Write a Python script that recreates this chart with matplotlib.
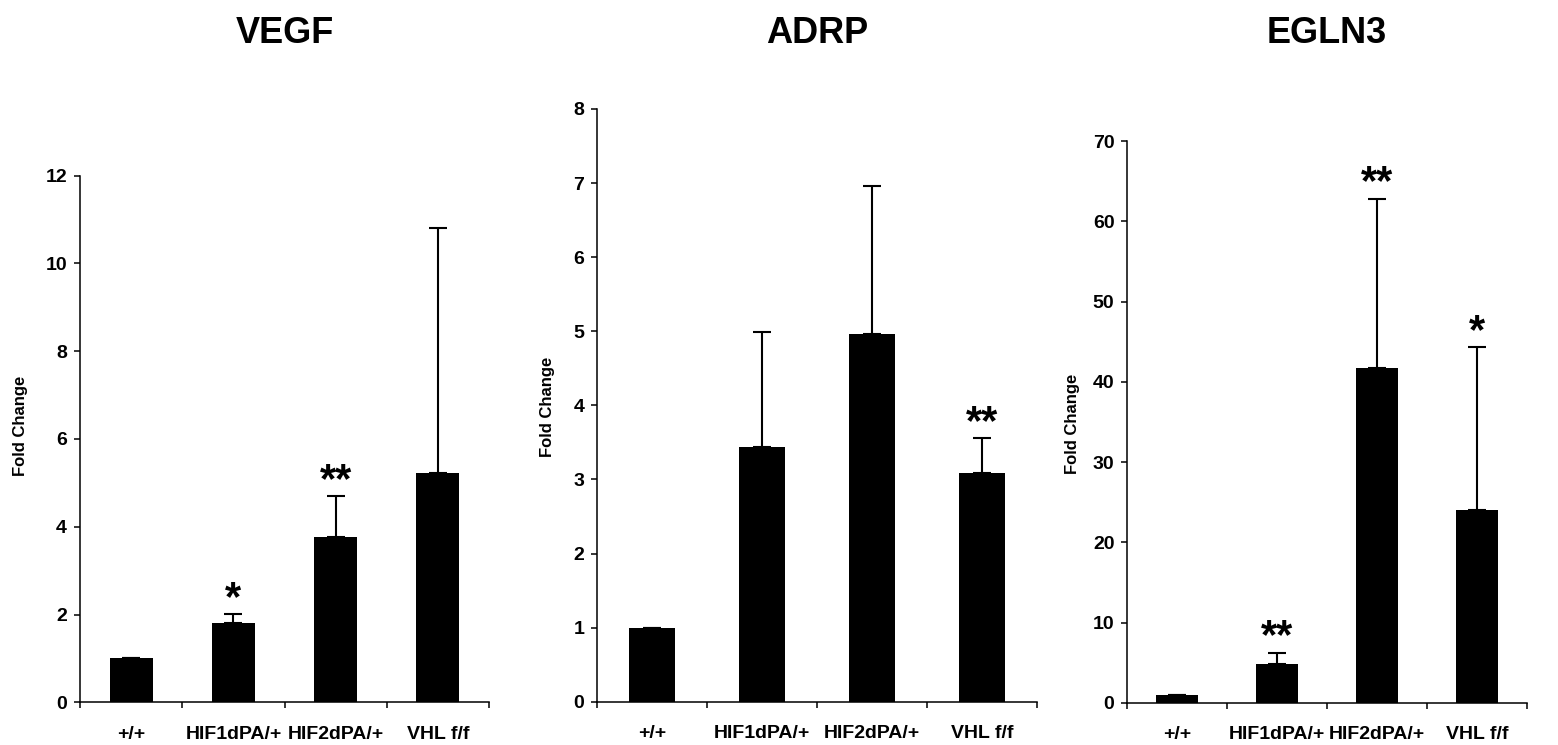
import matplotlib
matplotlib.use("Agg")
import matplotlib.pyplot as plt
import numpy as np

plt.rcParams['font.family'] = ['Liberation Sans', 'DejaVu Sans']
plt.rcParams['font.weight'] = 'bold'

categories = ["+/+", "HIF1dPA/+", "HIF2dPA/+", "VHL f/f"]

titles = ["VEGF", "ADRP", "EGLN3"]

vegf_mean = [1.0, 1.80, 3.77, 5.22]
vegf_err = [0.0, 0.21, 0.92, 5.58]
vegf_stars = ["", "*", "**", ""]

adrp_mean = [1.0, 3.44, 4.96, 3.09]
adrp_err = [0.0, 1.55, 2.00, 0.47]
adrp_stars = ["", "", "", "**"]

egln3_mean = [1.0, 4.82, 41.77, 23.99]
egln3_err = [0.0, 1.41, 21.07, 20.36]
egln3_stars = ["", "**", "**", "*"]

ylims = [12, 8, 70]
ysteps = [2, 1, 10]

fig = plt.figure(figsize=(15.58, 7.45), dpi=100)
W, H = 1558.0, 745.0

# axes boxes in pixels: left, right, bottom(y from top), top(y from top)
boxes = [(80, 489, 702.3, 175.5),
         (597.3, 1037, 701.7, 108.9),
         (1127.3, 1527, 702.7, 141.3)]
label_x = [-52, -42, -47]
label_y = [0.524, 0.497, 0.496]

means = [vegf_mean, adrp_mean, egln3_mean]
errs = [vegf_err, adrp_err, egln3_err]
stars = [vegf_stars, adrp_stars, egln3_stars]

for i in range(3):
    l, r, b, t = boxes[i]
    ax = fig.add_axes([l / W, (H - b) / H, (r - l) / W, (b - t) / H])
    x = np.arange(len(categories)) + 0.5
    ax.bar(x, means[i], width=0.42, color='black', edgecolor='none', zorder=2)
    lower = np.zeros(len(categories))
    ax.errorbar(x, means[i], yerr=[lower, errs[i]], fmt='none', ecolor='black',
                elinewidth=1.5, capsize=6.5, capthick=1.5, zorder=3)
    for xi, m, e, s in zip(x, means[i], errs[i], stars[i]):
        if s:
            ax.annotate(s, xy=(xi, m + e), xytext=(0, 3), textcoords='offset points',
                        ha='center', va='baseline', fontsize=30, fontweight='bold')
    ax.set_xlim(0, 4)
    ax.set_ylim(0, ylims[i])
    ax.set_yticks(np.arange(0, ylims[i] + 0.001, ysteps[i]))
    ax.set_xticks(np.arange(0, 5))
    ax.set_xticklabels([])
    ax.set_xticks(x, minor=True)
    ax.set_xticklabels(categories, minor=True, fontsize=14, fontweight='bold')
    ax.tick_params(axis='x', which='major', direction='out', length=4.5, width=1.1)
    ax.tick_params(axis='x', which='minor', length=0, pad=17)
    ax.tick_params(axis='y', direction='out', length=4.3, width=1.1, pad=5, labelsize=14)
    for lab in ax.get_yticklabels():
        lab.set_fontweight('bold')
    for sp in ['top', 'right']:
        ax.spines[sp].set_visible(False)
    for sp in ['left', 'bottom']:
        ax.spines[sp].set_linewidth(1.1)
    ax.set_ylabel("Fold Change", fontsize=12, fontweight='bold')
    ax.yaxis.set_label_coords(label_x[i] / (r - l), label_y[i])
    fig.text((l + r) / 2 / W, (H - 43.3) / H, titles[i], ha='center', va='baseline',
             fontsize=26, fontweight='bold')

fig.savefig("out.png", dpi=100)
